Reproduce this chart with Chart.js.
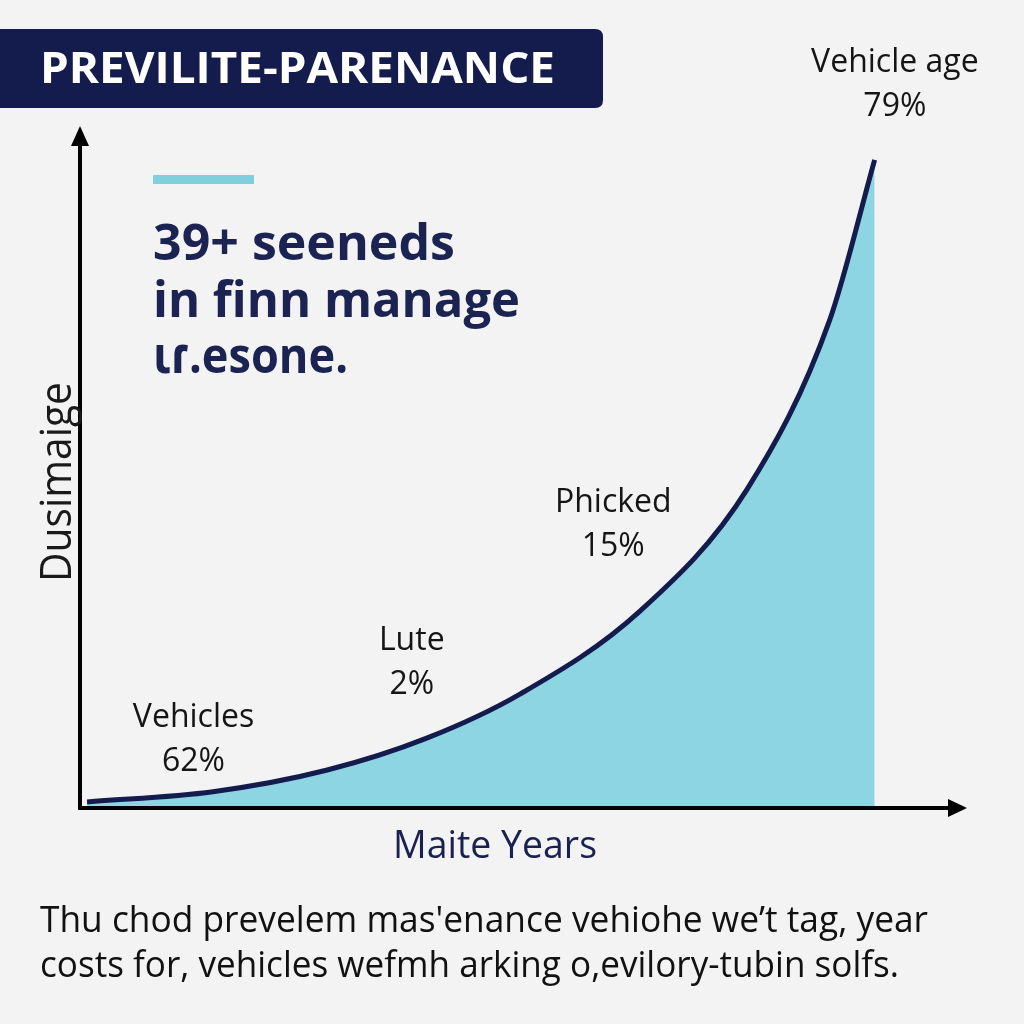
<!DOCTYPE html>
<html>
<head>
<meta charset="utf-8">
<script src="https://cdn.jsdelivr.net/npm/chart.js@4.4.1/dist/chart.umd.min.js"></script>
<style>
html, body { margin:0; padding:0; background:#f3f3f3; }
#wrap { width:1024px; height:1024px; }
</style>
</head>
<body>
<div id="wrap"><canvas id="chart" width="1024" height="1024"></canvas></div>
<script>
// curve (x = years, y = share)
var years  = [0.08, 1.51, 2.81, 3.94, 5.0, 6.36, 7.58, 8.52, 9.03];
var values = [0.9, 2.4, 5.6, 10.3, 16.8, 29.0, 47.0, 72.0, 95.6];

var calloutNames = ['Vehicles', 'Lute', 'Phicked', 'Vehicle age'];
var calloutPcts  = ['62%', '2%', '15%', '79%'];
var calloutX     = [1.29, 3.77, 6.06, 9.26];
var calloutY     = [11.9, 23.3, 43.7, 108.6];

var titleText = 'PREVILITE-PARENANCE';
var headline  = ['39+ seeneds', 'in finn manage', 'ɩɾ.esone.'];
var xTitle = 'Maite Years';
var yTitle = 'Dusimaige';
var caption = ['Thu chod prevelem mas\'enance vehiohe we’t tag, year',
               'costs for, vehicles wefmh arking o,evilory-tubin solfs.'];

var NAVY = '#141c4e';
var FILL = '#8ed5e3';
var FONT = '"Open Sans", "Noto Sans", sans-serif';

function fitText(ctx, txt, x, y, font, width, color, align) {
	ctx.save();
	ctx.font = font;
	ctx.fillStyle = color;
	ctx.textBaseline = 'alphabetic';
	ctx.textAlign = align;
	var w = ctx.measureText(txt).width;
	ctx.translate(x, y);
	if (width) ctx.scale(width / w, 1);
	ctx.fillText(txt, 0, 0);
	ctx.restore();
}

var decor = {
	id: 'decor',
	beforeDraw: function(chart) {
		var ctx = chart.ctx;
		ctx.save();
		ctx.fillStyle = '#f3f3f3';
		ctx.fillRect(0, 0, chart.width, chart.height);

		// title box
		ctx.fillStyle = NAVY;
		ctx.beginPath();
		ctx.moveTo(0, 29);
		ctx.lineTo(595, 29);
		ctx.quadraticCurveTo(603, 29, 603, 37);
		ctx.lineTo(603, 100);
		ctx.quadraticCurveTo(603, 108, 595, 108);
		ctx.lineTo(0, 108);
		ctx.closePath();
		ctx.fill();
		fitText(ctx, titleText, 40, 83, 'bold 43px ' + FONT, 515, '#ffffff', 'left');

		// accent bar + headline
		ctx.fillStyle = '#7fcfdd';
		ctx.fillRect(153, 175, 101, 9);
		fitText(ctx, headline[0], 153, 260, 'bold 50px ' + FONT, 302, '#1b2352', 'left');
		fitText(ctx, headline[1], 153, 317, 'bold 50px ' + FONT, 367, '#1b2352', 'left');
		fitText(ctx, headline[2], 153, 373, 'bold 50px ' + FONT, 195, '#1b2352', 'left');
		ctx.restore();
	},
	afterDatasetsDraw: function(chart) {
		var ctx = chart.ctx;
		var a = chart.chartArea;
		var xs = chart.scales.x, ys = chart.scales.y;
		ctx.save();

		// axes with arrows
		ctx.strokeStyle = '#000';
		ctx.fillStyle = '#000';
		ctx.lineWidth = 4;
		ctx.beginPath();
		ctx.moveTo(a.left, a.bottom + 2);
		ctx.lineTo(a.left, a.top + 12);
		ctx.moveTo(a.left - 2, a.bottom);
		ctx.lineTo(a.right - 8, a.bottom);
		ctx.stroke();
		ctx.beginPath();
		ctx.moveTo(a.left, a.top - 4);
		ctx.lineTo(a.left - 9, a.top + 16);
		ctx.lineTo(a.left + 9, a.top + 16);
		ctx.closePath();
		ctx.fill();
		ctx.beginPath();
		ctx.moveTo(a.right + 7, a.bottom);
		ctx.lineTo(a.right - 12, a.bottom - 9);
		ctx.lineTo(a.right - 12, a.bottom + 9);
		ctx.closePath();
		ctx.fill();

		// axis titles
		fitText(ctx, xTitle, 495, 858, '38px ' + FONT, 204, '#1a2150', 'center');
		ctx.save();
		ctx.translate(71, 482);
		ctx.rotate(-Math.PI / 2);
		fitText(ctx, yTitle, 0, 0, '44px ' + FONT, 200, '#1a1a1a', 'center');
		ctx.restore();

		// callouts
		for (var i = 0; i < calloutNames.length; i++) {
			var px = xs.getPixelForValue(calloutX[i]);
			var py = ys.getPixelForValue(calloutY[i]);
			fitText(ctx, calloutNames[i], px, py, '32px ' + FONT, null, '#151515', 'center');
			fitText(ctx, calloutPcts[i], px, py + 44, '32px ' + FONT, null, '#151515', 'center');
		}

		// caption
		fitText(ctx, caption[0], 40, 932, '37px ' + FONT, 888, '#111111', 'left');
		fitText(ctx, caption[1], 40, 977, '37px ' + FONT, 859, '#111111', 'left');
		ctx.restore();
	}
};

var pts = [];
for (var i = 0; i < years.length; i++) pts.push({x: years[i], y: values[i]});

new Chart(document.getElementById('chart'), {
	type: 'line',
	data: {
		datasets: [{
			data: pts,
			borderColor: NAVY,
			borderWidth: 5,
			borderCapStyle: 'butt',
			backgroundColor: FILL,
			fill: 'origin',
			pointRadius: 0,
			cubicInterpolationMode: 'monotone'
		}]
	},
	options: {
		responsive: false,
		animation: false,
		layout: { padding: { left: 80, right: 64, top: 130, bottom: 216 } },
		plugins: { legend: { display: false }, tooltip: { enabled: false }, title: { display: false } },
		scales: {
			x: { type: 'linear', min: 0, max: 10, display: false },
			y: { min: 0, max: 100, display: false }
		}
	},
	plugins: [decor]
});
</script>
</body>
</html>
